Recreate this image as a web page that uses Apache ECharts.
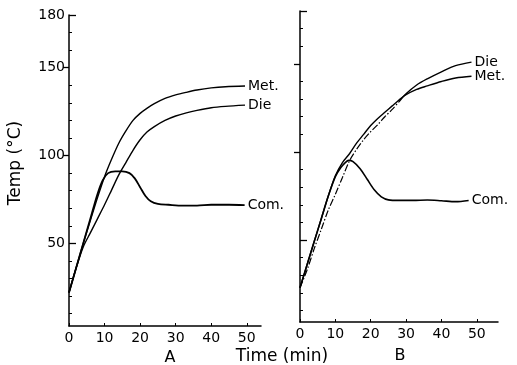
<!DOCTYPE html>
<html>
<head>
<meta charset="utf-8">
<script src="https://cdn.jsdelivr.net/npm/echarts@6/dist/echarts.min.js"></script>
<style>
  html, body { margin: 0; padding: 0; background: #fff; }
  #chart { width: 517px; height: 365px; }
</style>
</head>
<body>
<div id="chart"></div>
<script>
// Panel A – time (min) and temperature (°C) of each curve
const timeA_Met = [0, 2, 4, 6, 8, 10, 12, 14, 16, 18, 20, 22, 24, 27, 30, 33, 36, 40, 44, 49.5];
const tempA_Met = [22, 36, 50, 63, 76, 88, 98, 107, 114, 120, 124, 127, 129.5, 132.5, 134.5, 136, 137.3, 138.5, 139.2, 139.6];
const timeA_Die = [0, 2, 4, 6, 8, 10, 12, 14, 16, 18, 20, 22, 24, 27, 30, 33, 36, 40, 44, 49.5];
const tempA_Die = [22, 36, 48, 56, 64, 72, 80.5, 89, 96, 103, 109, 113.5, 116.5, 120, 122.5, 124.3, 125.7, 127.2, 128, 128.7];
const timeA_Com = [0, 2, 4, 6, 8, 9.5, 11, 13, 15, 17, 18.5, 20, 21.5, 23, 25, 28, 32, 36, 40, 45, 49.4];
const tempA_Com = [22, 36, 50, 64, 78, 86, 90, 91, 91, 90, 87, 82, 77, 74, 72.5, 72, 71.5, 71.5, 72, 72, 71.8];

// Panel B
const timeB_Die = [0, 2, 4, 6, 8, 10, 12, 14, 16, 18, 20, 22, 24, 26, 28, 30, 33, 36, 40, 44, 48.5];
const tempB_Die = [23, 33, 45, 56, 67, 76, 85.5, 95, 101.5, 107, 111.5, 115.5, 120, 124, 128.5, 133, 138, 141.5, 145.5, 149, 151];
const timeB_Met = [0, 2, 4, 6, 8, 10, 12, 14, 16, 18, 20, 22, 24, 26, 28, 30, 33, 36, 40, 44, 48.5];
const tempB_Met = [23, 36, 49, 62, 75, 86.5, 94, 99, 105, 110, 115, 119, 122.5, 126, 129.5, 132.5, 135.5, 137.5, 140, 142, 143];
const timeB_Com = [0, 2, 4, 6, 8, 10, 11.5, 12.8, 13.8, 15, 17, 19, 21, 23, 25, 28, 32, 36, 40, 44, 47.7];
const tempB_Com = [23, 36, 49, 62, 75, 86, 91, 94, 95.2, 94.5, 90.5, 84.5, 78.5, 74.5, 72.8, 72.5, 72.5, 72.7, 72.3, 71.8, 72.5];

// Axis ticks and labels
const timeTicks = [0, 10, 20, 30, 40, 50];
const tempLabels = [50, 100, 150, 180];
const tempMinorTicks = [10, 20, 30, 40, 60, 70, 80, 90, 110, 120, 130, 140, 160, 170];

// Panel B die curve: dash-dot while heating up, solid after it meets Met. (index of t = 28)
const dieB_split = 14;

const FONT = 'DejaVu Sans';
const INK = '#000';

function pairs(xs, ys) { return xs.map((x, i) => [x, ys[i]]); }

function timeAxis(gridIndex, max) {
  return {
    type: 'value', gridIndex, min: 0, max,
    axisLine: { show: true, onZero: false, lineStyle: { color: INK, width: 1.5 } },
    axisTick: { show: true, inside: true, length: 3, customValues: timeTicks, lineStyle: { color: INK, width: 1 } },
    axisLabel: { show: true, customValues: timeTicks, color: INK, fontFamily: FONT, fontSize: 14, margin: 5 },
    splitLine: { show: false }
  };
}

function tempAxes(gridIndex, min, withLabels) {
  const base = {
    type: 'value', gridIndex, min, max: 180, position: 'left',
    splitLine: { show: false }
  };
  return [
    Object.assign({}, base, {
      axisLine: { show: true, onZero: false, lineStyle: { color: INK, width: 1.5 } },
      axisTick: { show: true, inside: true, length: 3, customValues: tempMinorTicks, lineStyle: { color: INK, width: 1 } },
      axisLabel: { show: false }
    }),
    Object.assign({}, base, {
      axisLine: { show: false },
      axisTick: { show: true, inside: false, length: 6, customValues: [100, 150], lineStyle: { color: INK, width: 1.3 } },
      axisLabel: { show: withLabels, customValues: tempLabels, color: INK, fontFamily: FONT, fontSize: 14, margin: 4 }
    }),
    Object.assign({}, base, {
      axisLine: { show: false },
      axisTick: { show: true, inside: true, length: 7, customValues: [50, 180], lineStyle: { color: INK, width: 1.3 } },
      axisLabel: { show: false }
    })
  ];
}

function curve(name, xIdx, yIdx, data, width, dash, withLabel) {
  return {
    type: 'line', name, xAxisIndex: xIdx, yAxisIndex: yIdx, data,
    smooth: 0.3, showSymbol: false, symbol: 'none',
    lineStyle: { color: INK, width, type: dash || 'solid' },
    endLabel: { show: withLabel !== false, formatter: name, color: INK, fontFamily: FONT, fontSize: 14, distance: 3 },
    emphasis: { disabled: true }, silent: true, z: 3
  };
}

const dieB = pairs(timeB_Die, tempB_Die);

const chart = echarts.init(document.getElementById('chart'), null, { renderer: 'canvas' });

chart.setOption({
  animation: false,
  backgroundColor: '#fff',
  grid: [
    { left: 69, top: 15, width: 192, height: 311, containLabel: false, outerBoundsMode: 'none' },
    { left: 300, top: 11, width: 198, height: 311, containLabel: false, outerBoundsMode: 'none' }
  ],
  xAxis: [timeAxis(0, 54), timeAxis(1, 56)],
  yAxis: [].concat(tempAxes(0, 3, true), tempAxes(1, 3.5, false)),
  series: [
    curve('Met.', 0, 0, pairs(timeA_Met, tempA_Met), 1.4),
    curve('Die', 0, 0, pairs(timeA_Die, tempA_Die), 1.4),
    curve('Com.', 0, 0, pairs(timeA_Com, tempA_Com), 1.8),
    curve('Die', 1, 3, dieB.slice(0, dieB_split + 1), 1.2, [7, 2, 1.5, 2], false),
    curve('Die', 1, 3, dieB.slice(dieB_split), 1.4),
    curve('Met.', 1, 3, pairs(timeB_Met, tempB_Met), 1.4),
    curve('Com.', 1, 3, pairs(timeB_Com, tempB_Com), 1.6)
  ],
  graphic: [
    { type: 'text', x: 16, y: 163, rotation: Math.PI / 2, style: { text: 'Temp (°C)', fill: INK, font: '17px "DejaVu Sans"', align: 'center', verticalAlign: 'middle' } },
    { type: 'text', x: 170, y: 358, style: { text: 'A', fill: INK, font: '16px "DejaVu Sans"', align: 'center', verticalAlign: 'middle' } },
    { type: 'text', x: 282, y: 357, style: { text: 'Time (min)', fill: INK, font: '17px "DejaVu Sans"', align: 'center', verticalAlign: 'middle' } },
    { type: 'text', x: 400, y: 356, style: { text: 'B', fill: INK, font: '16px "DejaVu Sans"', align: 'center', verticalAlign: 'middle' } }
  ]
});
</script>
</body>
</html>
